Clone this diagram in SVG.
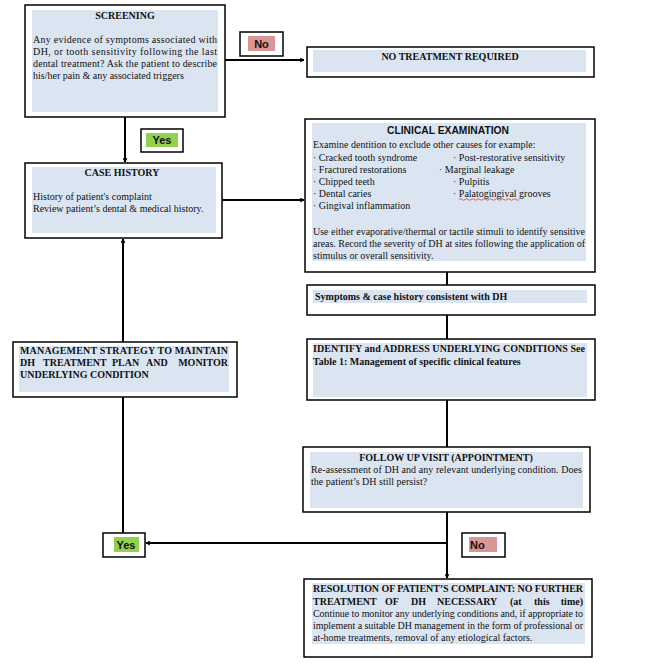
<svg xmlns="http://www.w3.org/2000/svg" width="645" height="671" viewBox="0 0 645 671">
<style>
.box{fill:#fff;stroke:#000;stroke-width:1.5}
.fill{fill:#dbe5f1}
.t{font-family:"Liberation Serif","Times New Roman",serif;font-size:10px;fill:#111}
.b{font-weight:bold}
.lab{font-family:"Liberation Sans",Arial,sans-serif;font-size:11px;font-weight:bold;fill:#111}
.c{stroke:#000;stroke-width:2;fill:none}
</style>
<defs>
<marker id="ah" viewBox="0 0 10 10" refX="9" refY="5" markerWidth="5" markerHeight="5" orient="auto" markerUnits="userSpaceOnUse">
<path d="M1,1 L9,5 L1,9" fill="none" stroke="#000" stroke-width="2"/>
</marker>
</defs>
<rect width="645" height="671" fill="#fff"/>

<g id="connectors">
<line class="c" x1="225" y1="60" x2="304" y2="60" marker-end="url(#ah)"/>
<line class="c" x1="125" y1="117" x2="125" y2="162" marker-end="url(#ah)"/>
<line class="c" x1="222" y1="200" x2="304" y2="200" marker-end="url(#ah)"/>
<line class="c" x1="447" y1="272" x2="447" y2="285"/>
<line class="c" x1="447" y1="315" x2="447" y2="339"/>
<line class="c" x1="447" y1="400" x2="447" y2="447"/>
<line class="c" x1="447" y1="512" x2="447" y2="578" marker-end="url(#ah)"/>
<line class="c" x1="447" y1="543" x2="146" y2="543" marker-end="url(#ah)"/>
<line class="c" x1="123" y1="533" x2="123" y2="397"/>
<line class="c" x1="123" y1="342" x2="123" y2="239" marker-end="url(#ah)"/>
</g>

<g id="screening">
<rect class="box" x="25" y="5" width="200" height="112"/>
<rect class="fill" x="32" y="10" width="186" height="102"/>
<text class="t b" x="125" y="19" text-anchor="middle">SCREENING</text>
<text class="t" x="33" y="43" textLength="184" lengthAdjust="spacing">Any evidence of symptoms associated with</text>
<text class="t" x="33" y="55" textLength="184" lengthAdjust="spacing">DH, or tooth sensitivity following the last</text>
<text class="t" x="33" y="67" textLength="184" lengthAdjust="spacing">dental treatment?  Ask the patient to describe</text>
<text class="t" x="33" y="79">his/her pain &amp; any associated triggers</text>
</g>

<g id="label-no-top">
<rect class="box" x="240" y="32" width="43" height="24"/>
<rect x="248" y="36" width="27" height="15" fill="#d99694"/>
<text class="lab" x="261.5" y="48" text-anchor="middle">No</text>
</g>

<g id="no-treatment">
<rect class="box" x="307" y="47" width="287" height="30"/>
<rect class="fill" x="313" y="50" width="273" height="22"/>
<text class="t b" x="450" y="60" text-anchor="middle">NO TREATMENT REQUIRED</text>
</g>

<g id="label-yes-top">
<rect class="box" x="141" y="129" width="42" height="23"/>
<rect x="146" y="133" width="32" height="14" fill="#92d050"/>
<text class="lab" x="162" y="144" text-anchor="middle">Yes</text>
</g>

<g id="case-history">
<rect class="box" x="25" y="163" width="197" height="75"/>
<rect class="fill" x="32" y="167" width="184" height="66"/>
<text class="t b" x="122" y="176" text-anchor="middle">CASE HISTORY</text>
<text class="t" x="33" y="200">History of patient's complaint</text>
<text class="t" x="33" y="212">Review patient’s dental &amp; medical history.</text>
</g>

<g id="clinical-examination">
<rect class="box" x="305" y="119" width="290" height="153"/>
<rect class="fill" x="312" y="123" width="274" height="138"/>
<text x="448" y="134" text-anchor="middle" font-family="'Liberation Sans',Arial,sans-serif" font-size="10" font-weight="bold" textLength="122" lengthAdjust="spacingAndGlyphs" fill="#111">CLINICAL EXAMINATION</text>
<text class="t" x="313" y="148">Examine dentition to exclude other causes for example:</text>
<text class="t" x="313" y="161">· Cracked tooth syndrome</text>
<text class="t" x="313" y="173">· Fractured restorations</text>
<text class="t" x="313" y="185">· Chipped teeth</text>
<text class="t" x="313" y="197">· Dental caries</text>
<text class="t" x="313" y="209">· Gingival inflammation</text>
<text class="t" x="453" y="161">· Post-restorative sensitivity</text>
<text class="t" x="439" y="173">· Marginal leakage</text>
<text class="t" x="453" y="185">· Pulpitis</text>
<text class="t" x="453" y="197">· Palatogingival grooves</text>
<path d="M459,199.5 q1.5,-1.5 3,0 t3,0 t3,0 t3,0 t3,0 t3,0 t3,0 t3,0 t3,0 t3,0 t3,0 t3,0 t3,0 t3,0 t3,0 t3,0 t3,0 t3,0 t3,0 t3,0" fill="none" stroke="#d22" stroke-width="0.7"/>
<text class="t" x="313" y="235" textLength="272" lengthAdjust="spacing">Use either evaporative/thermal or tactile stimuli to identify sensitive</text>
<text class="t" x="313" y="247" textLength="272" lengthAdjust="spacing">areas.  Record the severity of DH at sites following the application of</text>
<text class="t" x="313" y="259">stimulus or overall sensitivity.</text>
</g>

<g id="symptoms">
<rect class="box" x="307" y="285" width="288" height="30"/>
<rect class="fill" x="313" y="290" width="274" height="13"/>
<text class="t b" x="315" y="300">Symptoms &amp; case history consistent with DH</text>
</g>

<g id="identify">
<rect class="box" x="307" y="339" width="288" height="61"/>
<rect class="fill" x="313" y="343" width="274" height="54"/>
<text class="t b" x="313" y="352" textLength="272" lengthAdjust="spacing">IDENTIFY and ADDRESS UNDERLYING CONDITIONS See</text>
<text class="t b" x="313" y="365">Table 1: Management of specific clinical features</text>
</g>

<g id="management">
<rect class="box" x="13" y="342" width="224" height="55"/>
<rect class="fill" x="19" y="346" width="210" height="46"/>
<text class="t b" x="20" y="354" textLength="208" lengthAdjust="spacing">MANAGEMENT STRATEGY TO MAINTAIN</text>
<text class="t b" y="366"><tspan x="20">DH</tspan><tspan x="43">TREATMENT</tspan><tspan x="112">PLAN</tspan><tspan x="146">AND</tspan><tspan x="228" text-anchor="end">MONITOR</tspan></text>
<text class="t b" x="20" y="378">UNDERLYING CONDITION</text>
</g>

<g id="follow-up">
<rect class="box" x="303" y="447" width="287" height="65"/>
<rect class="fill" x="310" y="452" width="273" height="56"/>
<text class="t b" x="446" y="461" text-anchor="middle">FOLLOW UP VISIT (APPOINTMENT)</text>
<text class="t" x="311" y="473" textLength="271" lengthAdjust="spacing">Re-assessment of DH and any relevant underlying condition. Does</text>
<text class="t" x="311" y="485">the patient’s DH still persist?</text>
</g>

<g id="label-yes-bottom">
<rect class="box" x="103" y="533" width="42" height="24"/>
<rect x="114" y="537" width="25" height="15" fill="#92d050"/>
<text class="lab" x="126" y="549" text-anchor="middle">Yes</text>
</g>

<g id="label-no-bottom">
<rect class="box" x="462" y="533" width="43" height="24"/>
<rect x="469" y="537" width="28" height="15" fill="#d99694"/>
<text class="lab" x="470" y="549">No</text>
</g>

<g id="resolution">
<rect class="box" x="304" y="579" width="288" height="78"/>
<rect class="fill" x="312" y="583" width="273" height="61"/>
<text class="t b" x="313" y="592" textLength="270" lengthAdjust="spacing">RESOLUTION OF PATIENT’S COMPLAINT: NO FURTHER</text>
<text class="t b" y="605"><tspan x="313">TREATMENT</tspan><tspan x="385">OF</tspan><tspan x="411">DH</tspan><tspan x="437">NECESSARY</tspan><tspan x="510">(at</tspan><tspan x="534">this</tspan><tspan x="583" text-anchor="end">time)</tspan></text>
<text class="t" x="313" y="617" textLength="270" lengthAdjust="spacing">Continue to monitor any underlying conditions and, if appropriate to</text>
<text class="t" x="313" y="629" textLength="270" lengthAdjust="spacing">implement a suitable DH management in the form of professional or</text>
<text class="t" x="313" y="641">at-home treatments, removal of any etiological factors.</text>
</g>
</svg>
